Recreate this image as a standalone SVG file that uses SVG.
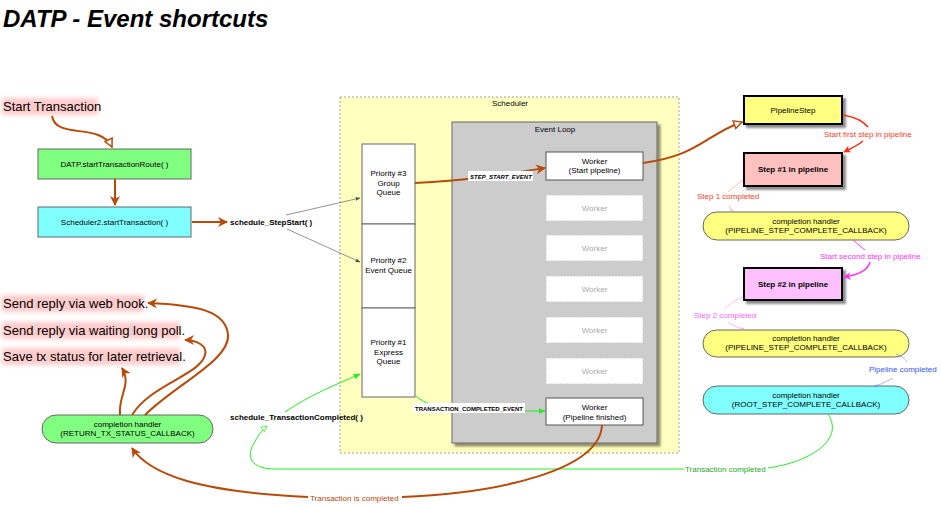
<svg xmlns="http://www.w3.org/2000/svg" width="941" height="506" viewBox="0 0 941 506">
<defs>
<style>
text{font-family:"Liberation Sans",Arial,sans-serif;}
.t8{font-size:8px;fill:#000;text-anchor:middle;}
.b8{font-size:8px;font-weight:bold;fill:#000;}
.big{font-size:13px;fill:#000;}
.box{stroke:#666;stroke-width:1;}
.q{fill:#fff;stroke:#666;stroke-width:1;}
.dw{fill:#fff;stroke:#ccc;stroke-width:1;stroke-dasharray:2 1;}
.wk{fill:#fff;stroke:#555;stroke-width:1;}
.ps{stroke:#000;stroke-width:2;}
.br{fill:none;stroke:#b84a0a;stroke-width:2;}
.gr{fill:none;stroke:#22ee22;stroke-width:1;}
.gy{fill:none;stroke:#777;stroke-width:0.8;}
.ell{stroke:#666;stroke-width:1;}
</style>
<filter id="glow" x="-10%" y="-50%" width="120%" height="200%"><feGaussianBlur stdDeviation="2"/></filter>
<filter id="shd" x="-10%" y="-10%" width="130%" height="140%"><feGaussianBlur in="SourceAlpha" stdDeviation="1"/><feOffset dx="3" dy="3"/><feComponentTransfer><feFuncA type="linear" slope="0.45"/></feComponentTransfer><feMerge><feMergeNode/><feMergeNode in="SourceGraphic"/></feMerge></filter>
<marker id="abr" viewBox="0 0 10 10" refX="9" refY="5" markerWidth="5" markerHeight="5" orient="auto"><path d="M0,0 L10,5 L0,10 L3,5 Z" fill="#b84a0a"/></marker>
<marker id="abro" viewBox="0 0 10 10" refX="9" refY="5" markerWidth="5" markerHeight="5" orient="auto"><path d="M1,1 L9,5 L1,9 Z" fill="#fff" stroke="#b84a0a" stroke-width="1.5"/></marker>
<marker id="agr" viewBox="0 0 10 10" refX="9" refY="5" markerWidth="7" markerHeight="7" orient="auto"><path d="M0,1 L10,5 L0,9 Z" fill="#22ee22"/></marker>
<marker id="agro" viewBox="0 0 10 10" refX="9" refY="5" markerWidth="7" markerHeight="7" orient="auto"><path d="M1,1 L9,5 L1,9 Z" fill="#fff" stroke="#22ee22" stroke-width="1"/></marker>
<marker id="agy" viewBox="0 0 10 10" refX="9" refY="5" markerWidth="6" markerHeight="6" orient="auto"><path d="M0,1 L10,5 L0,9 Z" fill="#555"/></marker>
<marker id="ared" viewBox="0 0 10 10" refX="9" refY="5" markerWidth="5" markerHeight="5" orient="auto"><path d="M0,0 L10,5 L0,10 L3,5 Z" fill="#ff2a10"/></marker>
<marker id="amg" viewBox="0 0 10 10" refX="9" refY="5" markerWidth="5" markerHeight="5" orient="auto"><path d="M0,0 L10,5 L0,10 L3,5 Z" fill="#ff33ff"/></marker>
<marker id="apk" viewBox="0 0 10 10" refX="9" refY="5" markerWidth="6" markerHeight="6" orient="auto"><path d="M0,1 L10,5 L0,9" fill="none" stroke="#ff8080" stroke-width="1"/></marker>
<marker id="apm" viewBox="0 0 10 10" refX="9" refY="5" markerWidth="6" markerHeight="6" orient="auto"><path d="M0,1 L10,5 L0,9" fill="none" stroke="#ff80ff" stroke-width="1"/></marker>
<marker id="abl" viewBox="0 0 10 10" refX="9" refY="5" markerWidth="6" markerHeight="6" orient="auto"><path d="M0,1 L10,5 L0,9" fill="none" stroke="#6688ff" stroke-width="1"/></marker>
</defs>
<rect width="941" height="506" fill="#fff"/>
<text x="3" y="27" style="font-size:24px;font-weight:bold;font-style:italic">DATP - Event shortcuts</text>

<g id="scheduler">
<rect x="340" y="97" width="339" height="356" fill="#ffffc0" stroke="#888" stroke-width="0.8" stroke-dasharray="2 2"/>
<text class="t8" x="510" y="106">Scheduler</text>
</g>
<g id="event-loop">
<rect x="452" y="122" width="205" height="321" fill="#cccccc" stroke="#666" stroke-width="1" filter="url(#shd)"/>
<text class="t8" x="555" y="132">Event Loop</text>
</g>
<g id="queue3"><rect class="q" x="362" y="144" width="53" height="80"/><text class="t8" x="388.5" y="176">Priority #3</text><text class="t8" x="388.5" y="186">Group</text><text class="t8" x="388.5" y="195">Queue</text></g>
<g id="queue2"><rect class="q" x="362" y="224" width="53" height="84"/><text class="t8" x="388.5" y="263">Priority #2</text><text class="t8" x="388.5" y="273">Event Queue</text></g>
<g id="queue1"><rect class="q" x="362" y="308" width="53" height="89"/><text class="t8" x="388.5" y="345">Priority #1</text><text class="t8" x="388.5" y="355">Express</text><text class="t8" x="388.5" y="364">Queue</text></g>

<g id="worker-start"><rect class="wk" x="546" y="152" width="97" height="28"/><text class="t8" x="594.5" y="164">Worker</text><text class="t8" x="594.5" y="173">(Start pipeline)</text></g>
<g id="worker2"><rect class="dw" x="546" y="195" width="97" height="26"/><text class="t8" x="594.5" y="211" style="fill:#aaa">Worker</text></g>
<g id="worker3"><rect class="dw" x="546" y="235" width="97" height="26"/><text class="t8" x="594.5" y="251" style="fill:#aaa">Worker</text></g>
<g id="worker4"><rect class="dw" x="546" y="276" width="97" height="26"/><text class="t8" x="594.5" y="292" style="fill:#aaa">Worker</text></g>
<g id="worker5"><rect class="dw" x="546" y="317" width="97" height="26"/><text class="t8" x="594.5" y="333" style="fill:#aaa">Worker</text></g>
<g id="worker6"><rect class="dw" x="546" y="358" width="97" height="26"/><text class="t8" x="594.5" y="374" style="fill:#aaa">Worker</text></g>
<g id="worker-finished"><rect class="wk" x="546" y="398" width="97" height="27"/><text class="t8" x="594.5" y="410">Worker</text><text class="t8" x="594.5" y="420">(Pipeline finished)</text></g>

<g id="start-transaction"><rect x="2" y="98" width="96" height="17" fill="#ffcccc" filter="url(#glow)"/><text class="big" x="3" y="111">Start Transaction</text></g>
<g id="start-route"><rect class="box" x="38" y="149" width="153" height="30" fill="#80ff80"/><text class="t8" x="114.5" y="167">DATP.startTransactionRoute( )</text></g>
<g id="scheduler2"><rect class="box" x="38" y="207" width="153" height="30" fill="#80ffff"/><text class="t8" x="114.5" y="225">Scheduler2.startTransaction( )</text></g>
<g id="schedule-stepstart"><text class="b8" x="230" y="225">schedule_StepStart( )</text></g>
<g id="schedule-txcompleted"><text class="b8" x="230" y="420">schedule_TransactionCompleted( )</text></g>

<g id="reply-webhook"><rect x="2" y="295" width="142" height="17" fill="#ffcccc" filter="url(#glow)"/><text class="big" x="3" y="308">Send reply via web hook.</text></g>
<g id="reply-longpoll"><rect x="2" y="322" width="178" height="17" fill="#ffcccc" filter="url(#glow)"/><text class="big" x="3" y="335">Send reply via waiting long poll.</text></g>
<g id="save-status"><rect x="2" y="348" width="178" height="17" fill="#ffcccc" filter="url(#glow)"/><text class="big" x="3" y="361">Save tx status for later retrieval.</text></g>
<g id="return-handler"><rect class="ell" x="42" y="415" width="171" height="28" rx="14" fill="#80ff80"/><text class="t8" x="127.5" y="427">completion handler</text><text class="t8" x="127.5" y="436">(RETURN_TX_STATUS_CALLBACK)</text></g>

<g id="pipelinestep"><rect class="ps" x="744" y="96" width="98" height="28" fill="#ffff80" filter="url(#shd)"/><text class="t8" x="793" y="113">PipelineStep</text></g>
<g id="step1"><rect class="ps" x="744" y="153" width="98" height="33" fill="#ffc0c0" filter="url(#shd)"/><text class="t8" x="793" y="172" style="font-weight:bold">Step #1 in pipeline</text></g>
<g id="handler1"><rect class="ell" x="703" y="212" width="206" height="28" rx="14" fill="#ffff80"/><text class="t8" x="806" y="224">completion handler</text><text class="t8" x="806" y="233">(PIPELINE_STEP_COMPLETE_CALLBACK)</text></g>
<g id="step2"><rect class="ps" x="744" y="268" width="98" height="32" fill="#ffc0ff" filter="url(#shd)"/><text class="t8" x="793" y="287" style="font-weight:bold">Step #2 in pipeline</text></g>
<g id="handler2"><rect class="ell" x="703" y="330" width="206" height="27" rx="13.5" fill="#ffff80"/><text class="t8" x="806" y="341">completion handler</text><text class="t8" x="806" y="350">(PIPELINE_STEP_COMPLETE_CALLBACK)</text></g>
<g id="root-handler"><rect class="ell" x="703" y="386" width="206" height="28" rx="14" fill="#80ffff"/><text class="t8" x="806" y="398">completion handler</text><text class="t8" x="806" y="407">(ROOT_STEP_COMPLETE_CALLBACK)</text></g>

<g id="connectors">
<path class="br" d="M52,116 C56,140 100,122 112,147" marker-end="url(#abro)"/>
<path class="br" d="M115,179 L115,205" marker-end="url(#abr)"/>
<path class="br" d="M192,222 L227,222" marker-end="url(#abr)"/>
<path class="gy" d="M286,215 L360,198" marker-end="url(#agy)"/>
<path class="gy" d="M287,229 L360,262" marker-end="url(#agy)"/>
<path class="br" d="M415,183 C470,180 500,175 545,168" marker-end="url(#abr)"/>
<rect x="468" y="171" width="65" height="10" fill="#fff"/>
<text x="470" y="178.5" style="font-size:6px;font-weight:bold;font-style:italic">STEP_START_EVENT</text>
<path class="br" d="M643,163 C700,155 705,135 742,122" marker-end="url(#abro)"/>
<path d="M843,115 C855,117 864,122 868,127" fill="none" stroke="#ff2a10" stroke-width="1.5"/>
<text x="824" y="137" style="font-size:8px;fill:#ff3b1f">Start first step in pipeline</text>
<path d="M863,141 C857,146 850,149 844,152" fill="none" stroke="#ff2a10" stroke-width="1.5" marker-end="url(#ared)"/>
<path d="M743,180 C735,186 730,190 728,192" fill="none" stroke="#ff9090" stroke-width="0.6"/>
<text x="697" y="199" style="font-size:8px;fill:#ff3b1f">Step 1 completed</text>
<path d="M729,206 C730,208 731,210 733,211" fill="none" stroke="#ff8080" stroke-width="0.6" marker-end="url(#apk)"/>
<path d="M853,240 C858,244 862,248 865,250" fill="none" stroke="#ff33ff" stroke-width="1"/>
<text x="820" y="259" style="font-size:8px;fill:#ff33ff">Start second step in pipeline</text>
<path d="M870,262 C868,270 858,275 844,277" fill="none" stroke="#ff33ff" stroke-width="1.5" marker-end="url(#amg)"/>
<path d="M743,297 C735,300 728,305 725,309" fill="none" stroke="#ff90ff" stroke-width="0.6"/>
<text x="694" y="318" style="font-size:8px;fill:#ff66ff">Step 2 completed</text>
<path d="M728,322 C732,325 737,328 744,329" fill="none" stroke="#ff80ff" stroke-width="0.6" marker-end="url(#apm)"/>
<path d="M896,354 C902,356 905,359 907,362" fill="none" stroke="#6688ff" stroke-width="0.6"/>
<text x="869" y="372" style="font-size:8px;fill:#3355ff">Pipeline completed</text>
<path d="M893,378 C885,382 880,385 875,386" fill="none" stroke="#6688ff" stroke-width="0.6" marker-end="url(#abl)"/>
<path class="gr" d="M828,414 C845,440 810,462 768,468"/>
<text x="685" y="472" style="font-size:8px;fill:#22aa22">Transaction completed</text>
<path class="gr" d="M684,469 L275,469 C255,469 245,460 253,445 C257,437 262,430 267,426" marker-end="url(#agro)"/>
<path class="gr" d="M285,412 C310,395 335,385 360,374" marker-end="url(#agr)"/>
<path class="gr" d="M416,396 C420,400 425,402 430,404"/>
<rect x="413" y="403" width="112" height="10" fill="#fff"/>
<text x="415" y="410.5" style="font-size:6px;font-weight:bold">TRANSACTION_COMPLETED_EVENT</text>
<path class="gr" d="M525,411 L545,411" marker-end="url(#agr)"/>
<path class="br" d="M602,425 C600,470 500,493 402,497"/>
<text x="310" y="501" style="font-size:8px;fill:#b84a0a">Transaction is completed</text>
<path class="br" d="M308,497 C200,492 150,475 132,448" marker-end="url(#abr)"/>
<path class="br" d="M120,415 C118,395 132,385 122,368" marker-end="url(#abr)"/>
<path class="br" d="M132,415 C150,385 200,375 205,355 C208,345 195,340 185,340" marker-end="url(#abr)"/>
<path class="br" d="M145,415 C175,385 230,360 228,335 C226,310 195,305 148,303" marker-end="url(#abr)"/>
</g>
</svg>
